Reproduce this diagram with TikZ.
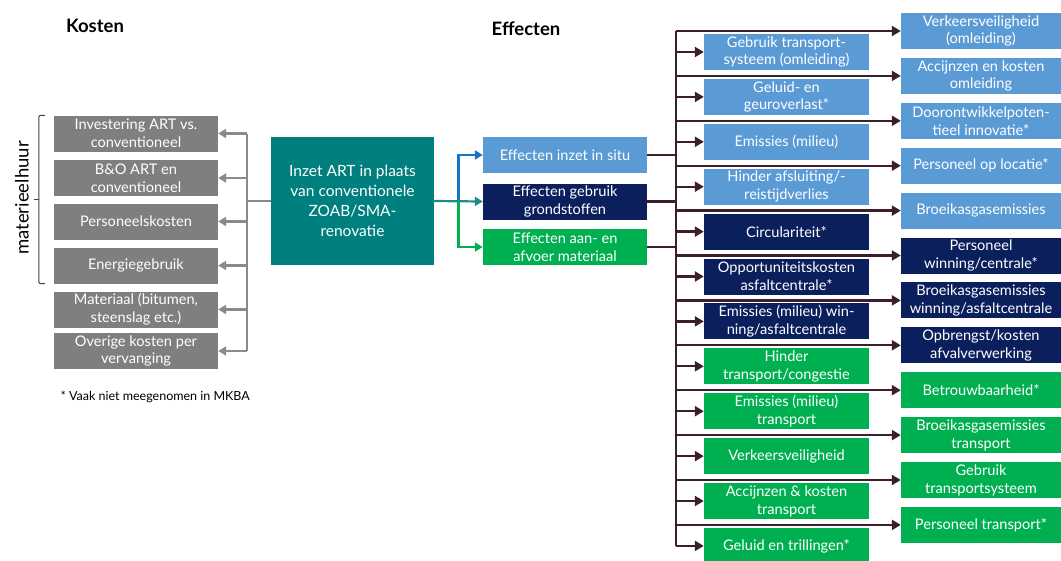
\documentclass[tikz,border=0pt]{standalone}
\usepackage{fontspec}
\setmainfont{Lato}
\usetikzlibrary{calc,arrows.meta}
\definecolor{lblue}{HTML}{5B9BD5}
\definecolor{navy}{HTML}{0B1F5C}
\definecolor{grn}{HTML}{00B050}
\definecolor{tealbox}{HTML}{007F7F}
\definecolor{gbox}{HTML}{7F7F7F}
\definecolor{gline}{HTML}{8A8A8A}
\definecolor{darr}{HTML}{3C1E2E}
\definecolor{bluearr}{HTML}{1874C4}
\definecolor{tealarr}{HTML}{1A8A8A}
\definecolor{bracecol}{HTML}{404040}
\begin{document}
\begin{tikzpicture}[x=1pt,y=-1pt,
  box/.style={inner sep=0pt, minimum height=36pt, align=center, text=white, font=\fontsize{14.6}{17.8}\selectfont},
  kbox/.style={box, fill=gbox, minimum width=164pt},
  cone/.style={box, minimum width=165pt},
  ctwo/.style={box, minimum width=160pt},
  mid/.style={box, minimum width=164pt},
  lb/.style={fill=lblue}, nv/.style={fill=navy}, gr/.style={fill=grn},
  darrow/.style={draw=darr, line width=2.3pt, -{Triangle[length=9pt,width=10pt]}},
  dline/.style={draw=darr, line width=2.3pt},
  garrow/.style={draw=gline, line width=2.6pt, -{Triangle[length=8pt,width=9pt]}},
  gl/.style={draw=gline, line width=2.6pt},
  carrow/.style={line width=2.2pt, -{Triangle[length=8pt,width=9pt]}},
  head/.style={font=\fontsize{18.5}{20}\selectfont\bfseries, text=black},
]
\useasboundingbox (0,0) rectangle (1061,560);

% headings
\node[head] (kosten) at (95,26) {Kosten};
\node[head] (effecten) at (526,29) {Effecten};

% cost boxes
\node[kbox] (k1) at (136,133.5) {Investering ART vs.\\conventioneel};
\node[kbox] (k2) at (136,178) {B\&O ART en\\conventioneel};
\node[kbox] (k3) at (136,221.5) {Personeelskosten};
\node[kbox] (k4) at (136,265.5) {Energiegebruik};
\node[kbox] (k5) at (136,309.5) {Materiaal (bitumen,\\steenslag etc.)};
\node[kbox] (k6) at (136,351) {Overige kosten per\\vervanging};

% brace
\coordinate (bt) at ($(k1.north west)+(-9,0)$);
\coordinate (bb) at ($(k4.south west)+(-9,0)$);
\coordinate (bm) at ($(bt)!0.5!(bb)$);
\draw[bracecol, line width=1pt, rounded corners=2pt] (bt) -- ++(-6,0) -- ($(bb)+(-6,0)$) -- (bb);
\draw[bracecol, line width=1pt] ($(bm)+(-6,0)$) -- ++(-5,0);
\node[rotate=90, font=\fontsize{18.5}{20}\selectfont, text=black] (mh) at (22,198) {materieelhuur};

\node[font=\fontsize{12.5}{14}\selectfont, anchor=west, text=black] (note) at (57,397) {* Vaak niet meegenomen in MKBA};

% central box
\node[box, fill=tealbox, minimum width=163pt, minimum height=128pt, font=\fontsize{15.5}{20}\selectfont] (teal) at (352.5,201) {Inzet ART in plaats\\van conventionele\\ZOAB/SMA-\\renovatie};

% gray trunk
\coordinate (gtrunk) at (247,0);
\draw[gl] (teal.west) -- (teal.west -| gtrunk);
\draw[gl] (k1.east -| gtrunk) -- (k6.east -| gtrunk);
\foreach \n in {k1,k2,k3,k4,k5,k6} \draw[garrow] (\n.east -| gtrunk) -- (\n.east);

% middle boxes
\node[mid, lb] (ma) at (565,155) {Effecten inzet in situ};
\node[mid, nv] (mb) at (565,201.5) {Effecten gebruik\\grondstoffen};
\node[mid, gr] (mc) at (565,247) {Effecten aan- en\\afvoer materiaal};

\coordinate (split) at (458.5,201);
\draw[carrow, draw=bluearr] (split) |- (ma.west);
\draw[carrow, draw=grn] (split) |- (mc.west);
\draw[carrow, draw=tealarr] (teal.east) -- (mb.west);

% right column 1
\node[cone, lb] (r1) at (786.5,52) {Gebruik transport-\\systeem (omleiding)};
\node[cone, lb] (r2) at (786.5,96.9) {Geluid- en\\geuroverlast*};
\node[cone, lb] (r3) at (786.5,141.8) {Emissies (milieu)};
\node[cone, lb] (r4) at (786.5,186.7) {Hinder afsluiting/-\\reistijdverlies};
\node[cone, nv] (r5) at (786.5,231.6) {Circulariteit*};
\node[cone, nv] (r6) at (786.5,276.5) {Opportuniteitskosten\\asfaltcentrale*};
\node[cone, nv] (r7) at (786.5,321.4) {Emissies (milieu) win-\\ning/asfaltcentrale};
\node[cone, gr] (r8) at (786.5,366.3) {Hinder\\transport/congestie};
\node[cone, gr] (r9) at (786.5,411.2) {Emissies (milieu)\\transport};
\node[cone, gr] (r10) at (786.5,456.1) {Verkeersveiligheid};
\node[cone, gr] (r11) at (786.5,501) {Accijnzen \& kosten\\transport};
\node[cone, gr] (r12) at (786.5,545.9) {Geluid en trillingen*};

% right column 2
\node[ctwo, lb] (s1) at (981,31) {Verkeersveiligheid\\(omleiding)};
\node[ctwo, lb] (s2) at (981,75.9) {Accijnzen en kosten\\omleiding};
\node[ctwo, lb] (s3) at (981,120.8) {Doorontwikkelpoten-\\tieel innovatie*};
\node[ctwo, lb] (s4) at (981,165.7) {Personeel op locatie*};
\node[ctwo, lb] (s5) at (981,210.6) {Broeikasgasemissies};
\node[ctwo, nv] (s6) at (981,255.5) {Personeel\\winning/centrale*};
\node[ctwo, nv] (s7) at (981,300.4) {Broeikasgasemissies\\winning/asfaltcentrale};
\node[ctwo, nv] (s8) at (981,345.3) {Opbrengst/kosten\\afvalverwerking};
\node[ctwo, gr] (s9) at (981,390.2) {Betrouwbaarheid*};
\node[ctwo, gr] (s10) at (981,435.1) {Broeikasgasemissies\\transport};
\node[ctwo, gr] (s11) at (981,480) {Gebruik\\transportsysteem};
\node[ctwo, gr] (s12) at (981,524.9) {Personeel transport*};

% dark trunk
\coordinate (trunk) at (676,0);
\draw[dline] (s1.west -| trunk) -- (r12.west -| trunk);
\foreach \n in {ma,mb,mc} \draw[dline] (\n.east) -- (\n.east -| trunk);
\foreach \i in {1,...,12} {
  \draw[darrow] (r\i.west -| trunk) -- (r\i.west);
  \draw[darrow] (s\i.west -| trunk) -- (s\i.west);
}
\end{tikzpicture}
\end{document}
